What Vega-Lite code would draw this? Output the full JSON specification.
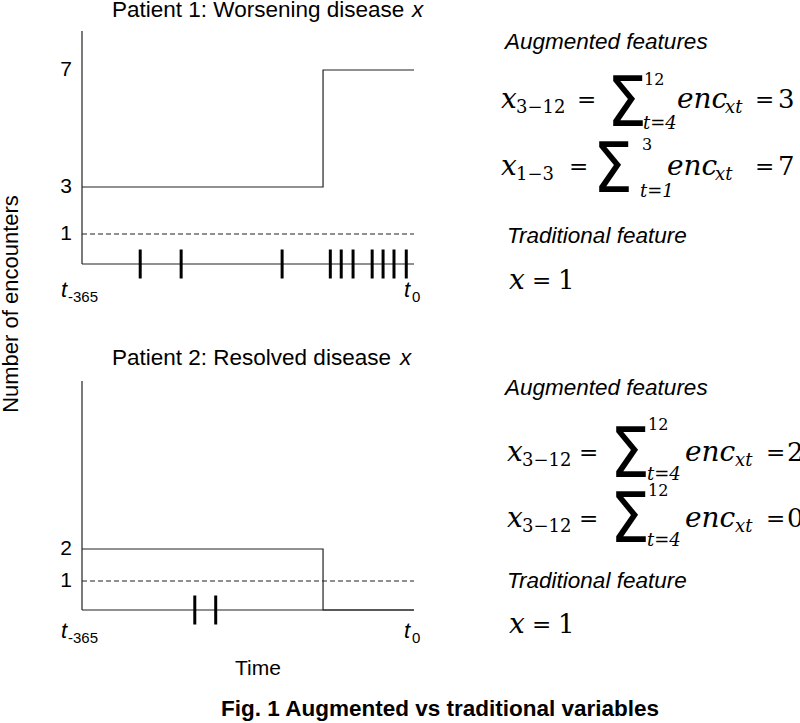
{
  "$schema": "https://vega.github.io/schema/vega-lite/v6.json",
  "width": 800,
  "height": 723,
  "padding": 0,
  "autosize": {"type": "none"},
  "background": "white",
  "config": {"view": {"stroke": null}},
  "datasets": {
    "steps": [
      {"p": 1, "day": -365, "n": 3}, {"p": 1, "day": -100, "n": 7}, {"p": 1, "day": 0, "n": 7},
      {"p": 2, "day": -365, "n": 2}, {"p": 2, "day": -100, "n": 0}, {"p": 2, "day": 0, "n": 0}
    ],
    "enc": [
      {"p": 1, "day": -301}, {"p": 1, "day": -256}, {"p": 1, "day": -145}, {"p": 1, "day": -92},
      {"p": 1, "day": -80}, {"p": 1, "day": -67}, {"p": 1, "day": -46}, {"p": 1, "day": -34},
      {"p": 1, "day": -22}, {"p": 1, "day": -8.5},
      {"p": 2, "day": -241}, {"p": 2, "day": -218}
    ],
    "ylab": [
      {"p": 1, "v": 7}, {"p": 1, "v": 3}, {"p": 1, "v": 1}, {"p": 2, "v": 2}, {"p": 2, "v": 1}
    ],
    "one": [{}],
    "notes": [
      {"k": "tt", "t": "Patient 1: Worsening disease", "x": 112, "y": 17},
      {"k": "tti", "t": "x", "x": 412, "y": 17},
      {"k": "tt", "t": "Patient 2: Resolved disease", "x": 112, "y": 365},
      {"k": "tti", "t": "x", "x": 400, "y": 365},
      {"k": "yt", "t": "Number of encounters", "x": 18, "y": 304},
      {"k": "ax", "t": "Time", "x": 235, "y": 675},
      {"k": "cp", "t": "Fig. 1 Augmented vs traditional variables", "x": 440, "y": 716},
      {"k": "lt", "t": "t", "x": 61, "y": 297}, {"k": "ls", "t": "-365", "x": 68, "y": 302},
      {"k": "lt", "t": "t", "x": 404, "y": 297}, {"k": "ls", "t": "0", "x": 412, "y": 302},
      {"k": "lt", "t": "t", "x": 61, "y": 638}, {"k": "ls", "t": "-365", "x": 68, "y": 643},
      {"k": "lt", "t": "t", "x": 404, "y": 638}, {"k": "ls", "t": "0", "x": 412, "y": 643},
      {"k": "hd", "t": "Augmented features", "x": 505, "y": 49},
      {"k": "hd", "t": "Traditional feature", "x": 507, "y": 243},
      {"k": "hd", "t": "Augmented features", "x": 505, "y": 395},
      {"k": "hd", "t": "Traditional feature", "x": 507, "y": 588},
      {"k": "mi", "t": "x", "x": 501, "y": 108}, {"k": "sb", "t": "3−12", "x": 516, "y": 113},
      {"k": "eq", "t": "=", "x": 577, "y": 107}, {"k": "sg", "t": "Σ", "x": 607, "y": 126},
      {"k": "sp", "t": "12", "x": 644, "y": 85}, {"k": "si", "t": "t=4", "x": 643, "y": 129},
      {"k": "mi", "t": "enc", "x": 677, "y": 108}, {"k": "si", "t": "xt", "x": 725, "y": 113},
      {"k": "eq", "t": "=", "x": 755, "y": 107}, {"k": "mr", "t": "3", "x": 778, "y": 108},
      {"k": "mi", "t": "x", "x": 501, "y": 175}, {"k": "sb", "t": "1−3", "x": 516, "y": 180},
      {"k": "eq", "t": "=", "x": 569, "y": 174}, {"k": "sg", "t": "Σ", "x": 593, "y": 192},
      {"k": "sp", "t": "3", "x": 642, "y": 150}, {"k": "si", "t": "t=1", "x": 640, "y": 197},
      {"k": "mi", "t": "enc", "x": 667, "y": 175}, {"k": "si", "t": "xt", "x": 715, "y": 180},
      {"k": "eq", "t": "=", "x": 755, "y": 174}, {"k": "mr", "t": "7", "x": 778, "y": 175},
      {"k": "mi", "t": "x", "x": 509, "y": 289}, {"k": "eq", "t": "=", "x": 532, "y": 288}, {"k": "mr", "t": "1", "x": 558, "y": 289},
      {"k": "mi", "t": "x", "x": 507, "y": 461}, {"k": "sb", "t": "3−12", "x": 522, "y": 466},
      {"k": "eq", "t": "=", "x": 579, "y": 460}, {"k": "sg", "t": "Σ", "x": 610, "y": 477},
      {"k": "sp", "t": "12", "x": 648, "y": 430}, {"k": "si", "t": "t=4", "x": 647, "y": 480},
      {"k": "mi", "t": "enc", "x": 685, "y": 461}, {"k": "si", "t": "xt", "x": 735, "y": 466},
      {"k": "eq", "t": "=", "x": 766, "y": 460}, {"k": "mr", "t": "2", "x": 787, "y": 461},
      {"k": "mi", "t": "x", "x": 507, "y": 527}, {"k": "sb", "t": "3−12", "x": 522, "y": 532},
      {"k": "eq", "t": "=", "x": 579, "y": 526}, {"k": "sg", "t": "Σ", "x": 610, "y": 542},
      {"k": "sp", "t": "12", "x": 648, "y": 496}, {"k": "si", "t": "t=4", "x": 647, "y": 546},
      {"k": "mi", "t": "enc", "x": 685, "y": 527}, {"k": "si", "t": "xt", "x": 735, "y": 532},
      {"k": "eq", "t": "=", "x": 766, "y": 526}, {"k": "mr", "t": "0", "x": 787, "y": 527},
      {"k": "mi", "t": "x", "x": 509, "y": 633}, {"k": "eq", "t": "=", "x": 532, "y": 632}, {"k": "mr", "t": "1", "x": 558, "y": 633}
    ]
  },
  "layer": [
    {
      "layer": [
        {
          "data": {"name": "one"},
          "mark": {"type": "rule", "color": "#222", "strokeWidth": 1.2},
          "encoding": {
            "x": {"datum": -365, "type": "quantitative", "scale": {"domain": [-365, 0], "range": [82, 414], "nice": false, "zero": false}, "axis": null},
            "y": {"datum": 0, "type": "quantitative", "scale": {"domain": [0, 1, 3, 7, 8.33], "range": [264, 234, 187, 70, 31], "nice": false, "zero": false}, "axis": null},
            "y2": {"datum": 8.33}
          }
        },
        {
          "data": {"name": "one"},
          "mark": {"type": "rule", "color": "#222", "strokeWidth": 1.2},
          "encoding": {
            "x": {"datum": -365, "type": "quantitative", "scale": {"domain": [-365, 0], "range": [82, 414], "nice": false, "zero": false}, "axis": null},
            "x2": {"datum": 0},
            "y": {"datum": 0, "type": "quantitative", "scale": {"domain": [0, 1, 3, 7, 8.33], "range": [264, 234, 187, 70, 31], "nice": false, "zero": false}, "axis": null}
          }
        },
        {
          "data": {"name": "one"},
          "mark": {"type": "rule", "color": "#222", "strokeWidth": 1, "strokeDash": [5, 3]},
          "encoding": {
            "x": {"datum": -365, "type": "quantitative", "scale": {"domain": [-365, 0], "range": [82, 414], "nice": false, "zero": false}, "axis": null},
            "x2": {"datum": 0},
            "y": {"datum": 1, "type": "quantitative", "scale": {"domain": [0, 1, 3, 7, 8.33], "range": [264, 234, 187, 70, 31], "nice": false, "zero": false}, "axis": null}
          }
        },
        {
          "data": {"name": "steps"},
          "transform": [{"filter": "datum.p == 1"}],
          "mark": {"type": "line", "interpolate": "step-after", "color": "#222", "strokeWidth": 1.2},
          "encoding": {
            "x": {"field": "day", "type": "quantitative", "scale": {"domain": [-365, 0], "range": [82, 414], "nice": false, "zero": false}, "axis": null},
            "y": {"field": "n", "type": "quantitative", "scale": {"domain": [0, 1, 3, 7, 8.33], "range": [264, 234, 187, 70, 31], "nice": false, "zero": false}, "axis": null}
          }
        },
        {
          "data": {"name": "enc"},
          "transform": [{"filter": "datum.p == 1"}],
          "mark": {"type": "tick", "orient": "vertical", "size": 29, "thickness": 3, "color": "#000", "opacity": 1},
          "encoding": {
            "x": {"field": "day", "type": "quantitative", "scale": {"domain": [-365, 0], "range": [82, 414], "nice": false, "zero": false}, "axis": null},
            "y": {"datum": 0, "type": "quantitative", "scale": {"domain": [0, 1, 3, 7, 8.33], "range": [264, 234, 187, 70, 31], "nice": false, "zero": false}, "axis": null}
          }
        },
        {
          "data": {"name": "ylab"},
          "transform": [{"filter": "datum.p == 1"}],
          "mark": {"type": "text", "align": "right", "baseline": "middle", "dx": -10, "font": "Liberation Sans", "fontSize": 21, "color": "#000"},
          "encoding": {
            "x": {"datum": -365, "type": "quantitative", "scale": {"domain": [-365, 0], "range": [82, 414], "nice": false, "zero": false}, "axis": null},
            "y": {"field": "v", "type": "quantitative", "scale": {"domain": [0, 1, 3, 7, 8.33], "range": [264, 234, 187, 70, 31], "nice": false, "zero": false}, "axis": null},
            "text": {"field": "v"}
          }
        }
      ]
    },
    {
      "layer": [
        {
          "data": {"name": "one"},
          "mark": {"type": "rule", "color": "#222", "strokeWidth": 1.2},
          "encoding": {
            "x": {"datum": -365, "type": "quantitative", "scale": {"domain": [-365, 0], "range": [82, 414], "nice": false, "zero": false}, "axis": null},
            "y": {"datum": 0, "type": "quantitative", "scale": {"domain": [0, 1, 2, 7.5], "range": [610, 581, 549, 381], "nice": false, "zero": false}, "axis": null},
            "y2": {"datum": 7.5}
          }
        },
        {
          "data": {"name": "one"},
          "mark": {"type": "rule", "color": "#222", "strokeWidth": 1.2},
          "encoding": {
            "x": {"datum": -365, "type": "quantitative", "scale": {"domain": [-365, 0], "range": [82, 414], "nice": false, "zero": false}, "axis": null},
            "x2": {"datum": 0},
            "y": {"datum": 0, "type": "quantitative", "scale": {"domain": [0, 1, 2, 7.5], "range": [610, 581, 549, 381], "nice": false, "zero": false}, "axis": null}
          }
        },
        {
          "data": {"name": "one"},
          "mark": {"type": "rule", "color": "#222", "strokeWidth": 1, "strokeDash": [5, 3]},
          "encoding": {
            "x": {"datum": -365, "type": "quantitative", "scale": {"domain": [-365, 0], "range": [82, 414], "nice": false, "zero": false}, "axis": null},
            "x2": {"datum": 0},
            "y": {"datum": 1, "type": "quantitative", "scale": {"domain": [0, 1, 2, 7.5], "range": [610, 581, 549, 381], "nice": false, "zero": false}, "axis": null}
          }
        },
        {
          "data": {"name": "steps"},
          "transform": [{"filter": "datum.p == 2"}],
          "mark": {"type": "line", "interpolate": "step-after", "color": "#222", "strokeWidth": 1.2},
          "encoding": {
            "x": {"field": "day", "type": "quantitative", "scale": {"domain": [-365, 0], "range": [82, 414], "nice": false, "zero": false}, "axis": null},
            "y": {"field": "n", "type": "quantitative", "scale": {"domain": [0, 1, 2, 7.5], "range": [610, 581, 549, 381], "nice": false, "zero": false}, "axis": null}
          }
        },
        {
          "data": {"name": "enc"},
          "transform": [{"filter": "datum.p == 2"}],
          "mark": {"type": "tick", "orient": "vertical", "size": 29, "thickness": 3, "color": "#000", "opacity": 1},
          "encoding": {
            "x": {"field": "day", "type": "quantitative", "scale": {"domain": [-365, 0], "range": [82, 414], "nice": false, "zero": false}, "axis": null},
            "y": {"datum": 0, "type": "quantitative", "scale": {"domain": [0, 1, 2, 7.5], "range": [610, 581, 549, 381], "nice": false, "zero": false}, "axis": null}
          }
        },
        {
          "data": {"name": "ylab"},
          "transform": [{"filter": "datum.p == 2"}],
          "mark": {"type": "text", "align": "right", "baseline": "middle", "dx": -10, "font": "Liberation Sans", "fontSize": 21, "color": "#000"},
          "encoding": {
            "x": {"datum": -365, "type": "quantitative", "scale": {"domain": [-365, 0], "range": [82, 414], "nice": false, "zero": false}, "axis": null},
            "y": {"field": "v", "type": "quantitative", "scale": {"domain": [0, 1, 2, 7.5], "range": [610, 581, 549, 381], "nice": false, "zero": false}, "axis": null},
            "text": {"field": "v"}
          }
        }
      ]
    },
    {
      "data": {"name": "notes"},
      "encoding": {
        "x": {"field": "x", "type": "quantitative", "scale": {"domain": [0, 800], "range": [0, 800], "nice": false, "zero": false}, "axis": null},
        "y": {"field": "y", "type": "quantitative", "scale": {"domain": [0, 723], "range": [0, 723], "nice": false, "zero": false}, "axis": null},
        "text": {"field": "t"}
      },
      "layer": [
        {"transform": [{"filter": "datum.k == 'tt'"}], "mark": {"type": "text", "align": "left", "baseline": "alphabetic", "font": "Liberation Sans", "fontSize": 22.5, "color": "#000"}},
        {"transform": [{"filter": "datum.k == 'tti'"}], "mark": {"type": "text", "align": "left", "baseline": "alphabetic", "font": "Liberation Sans", "fontStyle": "italic", "fontSize": 22.5, "color": "#000"}},
        {"transform": [{"filter": "datum.k == 'yt'"}], "mark": {"type": "text", "align": "center", "baseline": "alphabetic", "angle": 270, "font": "Liberation Sans", "fontSize": 22, "color": "#000"}},
        {"transform": [{"filter": "datum.k == 'ax'"}], "mark": {"type": "text", "align": "left", "baseline": "alphabetic", "font": "Liberation Sans", "fontSize": 21, "color": "#000"}},
        {"transform": [{"filter": "datum.k == 'cp'"}], "mark": {"type": "text", "align": "center", "baseline": "alphabetic", "font": "Liberation Sans", "fontWeight": "bold", "fontSize": 22.5, "color": "#000"}},
        {"transform": [{"filter": "datum.k == 'lt'"}], "mark": {"type": "text", "align": "left", "baseline": "alphabetic", "font": "Liberation Sans", "fontStyle": "italic", "fontSize": 22, "color": "#000"}},
        {"transform": [{"filter": "datum.k == 'ls'"}], "mark": {"type": "text", "align": "left", "baseline": "alphabetic", "font": "Liberation Sans", "fontSize": 15, "color": "#000"}},
        {"transform": [{"filter": "datum.k == 'hd'"}], "mark": {"type": "text", "align": "left", "baseline": "alphabetic", "font": "Liberation Sans", "fontStyle": "italic", "fontSize": 22.5, "color": "#000"}},
        {"transform": [{"filter": "datum.k == 'mi'"}], "mark": {"type": "text", "align": "left", "baseline": "alphabetic", "font": "DejaVu Serif", "fontStyle": "italic", "fontSize": 28, "color": "#000"}},
        {"transform": [{"filter": "datum.k == 'mr'"}], "mark": {"type": "text", "align": "left", "baseline": "alphabetic", "font": "DejaVu Serif", "fontSize": 26, "color": "#000"}},
        {"transform": [{"filter": "datum.k == 'eq'"}], "mark": {"type": "text", "align": "left", "baseline": "alphabetic", "font": "DejaVu Serif", "fontSize": 23, "color": "#000"}},
        {"transform": [{"filter": "datum.k == 'sb'"}], "mark": {"type": "text", "align": "left", "baseline": "alphabetic", "font": "DejaVu Serif", "fontSize": 18, "color": "#000"}},
        {"transform": [{"filter": "datum.k == 'si'"}], "mark": {"type": "text", "align": "left", "baseline": "alphabetic", "font": "DejaVu Serif", "fontStyle": "italic", "fontSize": 18, "color": "#000"}},
        {"transform": [{"filter": "datum.k == 'sp'"}], "mark": {"type": "text", "align": "left", "baseline": "alphabetic", "font": "DejaVu Serif", "fontSize": 16, "color": "#000"}},
        {"transform": [{"filter": "datum.k == 'sg'"}], "mark": {"type": "text", "align": "left", "baseline": "alphabetic", "font": "Liberation Sans Narrow, DejaVu Sans Condensed, Liberation Sans", "fontSize": 70, "color": "#000"}}
      ]
    }
  ],
  "resolve": {"scale": {"x": "independent", "y": "independent"}}
}
